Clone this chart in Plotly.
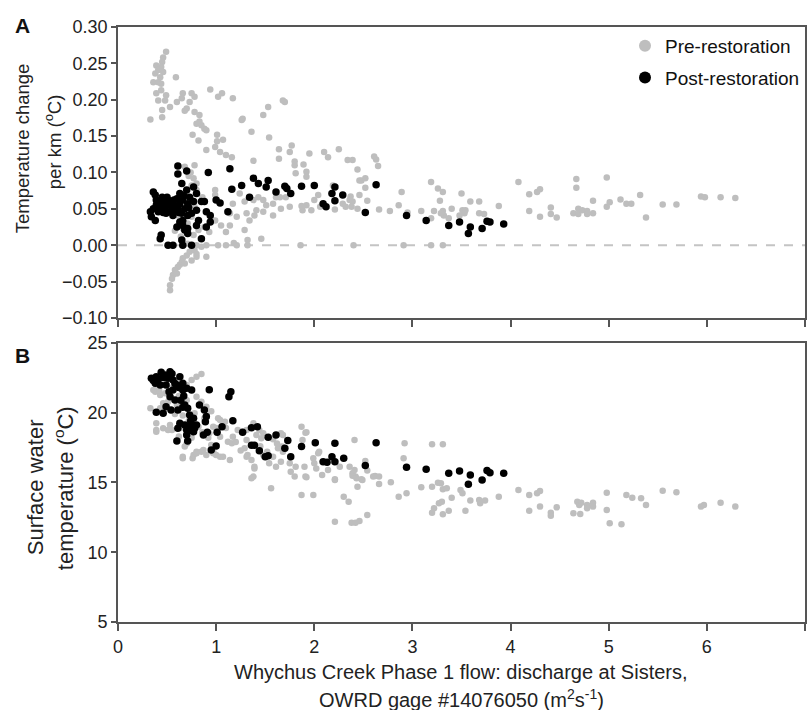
import plotly.graph_objects as go

# ---------------- data ----------------
# Panel A: temperature change per km (deg C) vs discharge (m3/s)
a_pre = [
    (0.49,0.266),(0.46,0.258),(0.45,0.252),(0.39,0.247),(0.44,0.245),(0.41,0.241),(0.38,0.236),(0.46,0.238),
    (0.43,0.231),(0.36,0.224),(0.41,0.224),(0.44,0.222),(0.59,0.231),(0.39,0.209),(0.44,0.213),(0.49,0.206),
    (0.41,0.199),(0.48,0.199),(0.60,0.197),(0.53,0.190),(0.45,0.186),(0.33,0.173),(0.45,0.176),(0.66,0.209),
    (0.65,0.202),(0.75,0.209),(0.78,0.204),(0.73,0.197),(0.70,0.188),(0.68,0.185),(0.78,0.183),(0.83,0.179),
    (0.94,0.214),(1.02,0.204),(1.06,0.209),(1.17,0.202),(0.80,0.167),(0.83,0.170),(0.88,0.160),(0.90,0.158),
    (0.85,0.165),(0.76,0.152),(0.82,0.144),(1.01,0.152),(1.07,0.145),(1.01,0.143),(0.99,0.135),(0.90,0.131),
    (1.04,0.128),(1.10,0.124),(1.16,0.121),(1.26,0.172),(1.27,0.174),(1.36,0.156),(1.48,0.179),(1.53,0.190),
    (1.54,0.148),(1.68,0.199),(1.70,0.197),(1.64,0.132),(1.64,0.119),(1.38,0.116),
    (0.68,0.108),(0.78,0.110),(0.77,0.092),(0.75,0.082),(0.80,0.076),(0.99,0.076),(0.99,0.069),(1.24,0.071),
    (1.29,0.060),(1.38,0.062),(1.43,0.066),(1.48,0.062),(1.51,0.055),(1.58,0.057),(1.61,0.066),(1.66,0.050),
    (1.58,0.041),(1.48,0.046),(1.39,0.041),(1.34,0.034),(1.29,0.021),(1.32,0.007),(1.46,0.009),(1.21,0.039),
    (1.14,0.027),(1.10,0.018),(1.05,0.027),(0.99,0.034),(0.93,0.018),(0.88,0.025),(0.82,0.021),(0.77,0.014),
    (0.70,0.018),(0.66,0.023),(0.71,0.030),(0.75,0.039),(0.78,0.053),(0.68,0.071),
    (0.80,0.0),(0.90,0.0),(1.02,0.0),(1.10,0.0),(1.21,0.0),(1.32,0.0),
    (0.77,-0.005),(0.80,-0.012),(0.73,-0.009),(0.70,-0.014),(0.66,-0.018),(0.65,-0.023),(0.63,-0.027),
    (0.61,-0.030),(0.58,-0.034),(0.56,-0.041),(0.55,-0.046),(0.53,-0.055),(0.53,-0.062),(0.90,-0.016),
    (0.80,-0.016),(0.78,-0.007),(0.75,-0.021),(0.68,-0.025),(0.60,-0.039),(0.71,0.002),(0.85,-0.002),
    (0.72,0.095),(0.74,0.100),(0.80,0.085),(0.86,0.066),(0.62,0.040),(0.58,0.020),(0.64,0.012),(0.72,0.045),
    (1.18,0.003),(1.17,0.057),(1.14,0.044),(1.31,0.044),(1.41,0.048),(1.71,0.066),
    (1.77,0.137),(1.75,0.128),(1.80,0.115),(1.80,0.110),(1.81,0.099),(1.89,0.111),(1.92,0.101),(1.92,0.094),
    (1.95,0.126),(2.10,0.128),(2.14,0.121),(2.25,0.132),(2.34,0.117),(2.39,0.117),(2.44,0.104),(2.46,0.089),
    (2.48,0.089),(2.52,0.079),(2.61,0.122),(2.63,0.118),(2.65,0.109),(2.54,0.061),(2.46,0.069),(2.37,0.067),
    (2.39,0.060),(2.38,0.053),(2.44,0.050),(2.29,0.057),(2.32,0.053),(2.21,0.049),(2.19,0.082),(2.06,0.053),
    (2.04,0.069),(2.00,0.062),(1.97,0.048),(1.92,0.055),(1.88,0.048),(1.87,0.054),(1.75,0.053),(1.65,0.066),
    (2.66,0.049),(2.77,0.047),(2.86,0.055),(2.89,0.073),(2.95,0.045),(3.09,0.047),(3.19,0.087),(3.26,0.078),
    (3.31,0.073),(3.28,0.061),(3.22,0.047),(3.19,0.037),(3.31,0.047),(3.32,0.041),(3.29,0.044),(3.40,0.050),
    (3.37,0.037),(3.50,0.071),(3.51,0.048),(3.53,0.044),(3.48,0.041),(3.59,0.060),(3.54,0.048),
    (1.86,0.0),(2.40,0.0),(2.91,0.0),(3.19,0.0),(3.31,0.0),(2.36,0.062),(2.52,0.092),
    (3.68,0.060),(3.68,0.044),(3.73,0.043),(3.88,0.054),(4.08,0.087),(4.19,0.070),(4.19,0.047),(4.27,0.073),
    (4.30,0.077),(4.30,0.039),(4.41,0.052),(4.41,0.043),(4.47,0.038),(4.64,0.044),(4.67,0.091),(4.67,0.079),
    (4.69,0.050),(4.69,0.043),(4.73,0.048),(4.78,0.047),(4.78,0.043),(4.84,0.044),(4.84,0.061),(4.98,0.093),
    (4.98,0.053),(5.01,0.059),(5.12,0.063),(5.18,0.057),(5.23,0.057),(5.32,0.069),(5.38,0.038),(5.55,0.056),
    (5.69,0.056),(5.94,0.067),(5.98,0.066),(6.14,0.066),(6.29,0.065),
]
a_post = [
    (0.61,0.109),(0.70,0.102),(0.92,0.100),(1.14,0.105),(1.16,0.077),(0.36,0.073),(0.38,0.069),
    (0.43,0.060),(0.46,0.057),(0.49,0.062),(0.53,0.055),(0.48,0.050),(0.56,0.058),(0.60,0.064),(0.63,0.071),
    (0.65,0.085),(0.70,0.076),(0.73,0.066),(0.77,0.080),(0.71,0.057),(0.68,0.050),(0.65,0.044),(0.66,0.034),
    (0.75,0.044),(0.80,0.048),(0.85,0.060),(0.88,0.060),(0.90,0.046),(0.94,0.041),(1.00,0.062),(1.04,0.058),
    (1.12,0.046),(0.33,0.046),(0.34,0.039),(0.38,0.034),(0.41,0.046),(0.56,0.041),(0.63,0.032),(0.71,0.023),
    (0.71,0.016),(0.80,0.027),(0.90,0.025),(0.85,0.009),(0.44,0.014),(0.43,0.009),(0.51,0.000),(0.56,0.000),
    (0.65,0.007),(0.66,0.000),(0.75,0.000),(0.66,0.062),(0.63,0.057),(0.61,0.050),(0.53,0.046),(0.44,0.053),
    (0.39,0.055),(0.49,0.044),(0.80,0.071),(0.77,0.060),(0.82,0.034),(0.94,0.032),(0.60,0.025),(0.68,0.021),
    (0.66,0.027),(0.71,0.041),(0.59,0.053),
    (0.40,0.058),(0.42,0.052),(0.45,0.062),(0.47,0.055),(0.50,0.058),(0.52,0.061),(0.55,0.052),(0.57,0.062),
    (0.58,0.048),(0.50,0.066),(0.36,0.050),(0.46,0.045),(0.62,0.045),(0.67,0.068),(0.72,0.052),(0.45,0.066),
    (0.39,0.062),(0.61,0.098),
    (1.26,0.082),(1.38,0.092),(1.43,0.085),(1.51,0.080),(1.53,0.089),(1.61,0.073),(1.34,0.066),(1.70,0.081),
    (1.72,0.078),(1.76,0.071),(1.87,0.081),(2.00,0.082),(2.09,0.057),(2.12,0.053),(2.18,0.071),(2.21,0.080),
    (2.21,0.061),(2.29,0.069),(2.52,0.045),(2.63,0.083),(2.94,0.041),(3.14,0.034),(3.37,0.027),(3.48,0.032),
    (3.59,0.025),(3.57,0.016),(3.71,0.023),(3.76,0.033),(3.79,0.032),(3.93,0.029),
]
# Panel B: surface water temperature (deg C) vs discharge (m3/s)
b_pre = [
    (0.33,20.32),(0.39,19.24),(0.39,18.76),(0.46,18.88),(0.51,18.76),(0.36,21.63),(0.39,21.87),(0.85,22.78),
    (0.80,22.58),(0.75,22.35),(0.70,21.99),(0.66,16.73),(0.76,16.73),(0.68,17.57),(0.80,17.21),(0.87,17.33),
    (0.97,17.09),(1.04,16.85),(1.14,16.61),(1.02,19.60),(1.04,19.48),(1.17,18.28),(1.22,18.76),(1.31,18.05),
    (1.38,19.24),(1.44,18.76),(1.48,18.52),(1.31,16.85),(1.36,15.30),(1.39,16.13),(1.56,14.58),(1.66,18.52),
    (1.67,17.57),(1.75,16.37),(1.76,15.77),(1.81,16.13),(1.87,19.00),(1.91,18.57),(1.87,14.10),(1.99,14.10),
    (1.91,15.42),(2.00,16.37),(2.08,15.54),(2.05,17.21),(2.21,12.19),(2.21,15.18),(2.30,13.98),(2.35,13.62),
    (2.38,12.12),(2.42,12.12),(2.46,12.24),(2.54,12.67),(2.39,15.66),(2.42,15.42),(2.41,18.05),(2.49,15.18),
    (2.44,14.70),(2.62,15.47),(2.66,15.42),(2.66,14.89),(2.78,15.01),(2.86,13.98),(2.92,17.81),(2.91,16.73),
    (2.94,14.22),
    (3.20,17.74),(3.31,17.74),(3.09,14.66),(3.20,14.70),(3.26,14.98),(3.29,14.94),(3.31,14.51),(3.35,14.58),
    (3.49,14.46),(3.51,14.22),(3.40,13.91),(3.30,13.62),(3.27,13.51),(3.22,13.15),(3.20,12.83),(3.31,12.72),
    (3.37,12.98),(3.54,12.98),(3.59,13.70),(3.68,13.75),(3.69,13.51),(3.74,13.70),(3.88,13.98),(4.08,14.46),
    (4.19,14.10),(4.19,12.98),(4.27,14.22),(4.30,14.39),(4.30,13.27),(4.41,12.83),(4.41,12.62),(4.47,13.22),
    (4.64,12.79),(4.68,13.62),(4.70,13.39),(4.72,13.55),(4.71,12.74),(4.78,13.39),(4.78,13.15),(4.84,13.55),
    (4.84,13.27),(4.98,14.27),(4.98,13.03),(5.01,12.07),(5.13,12.00),(5.18,14.10),(5.24,13.91),(5.33,13.87),
    (5.38,13.39),(5.55,14.41),(5.69,14.30),(5.94,13.27),(5.97,13.39),(6.14,13.55),(6.29,13.27),
    (0.38,21.51),(0.43,21.27),(0.48,21.39),(0.51,20.79),(0.46,20.67),(0.43,20.32),(0.60,20.56),(0.80,21.15),
    (0.85,20.79),(0.90,20.43),(0.78,19.96),(0.39,18.64),(0.53,19.12),(0.55,18.76),(1.09,19.36),(0.97,19.00),
    (0.93,18.53),(1.04,18.28),(1.12,17.92),(1.16,17.81),(0.66,16.85),(0.77,16.97),(0.80,17.09),(0.85,17.21),
    (0.90,16.97),(0.97,17.21),(1.00,16.97),(1.07,16.85),(0.95,17.69),(1.26,18.64),(1.31,18.76),(1.41,18.40),
    (1.46,18.17),(1.29,17.45),(1.32,16.97),(1.36,16.61),(1.39,16.01),(1.38,15.42),(1.48,16.97),(1.54,16.37),
    (1.58,16.85),(1.63,17.45),(1.61,16.13),(1.66,16.49),(1.68,18.40),
    (1.92,18.60),(1.88,18.05),(1.68,17.21),(1.80,15.42),(1.90,16.13),(1.92,15.37),(1.99,16.73),(2.04,17.09),
    (2.02,16.01),(2.14,15.90),(2.21,15.23),(2.26,16.13),(2.36,16.13),(2.39,15.49),(2.41,15.90),(2.43,15.30),
    (2.48,15.23),(2.52,16.54),(2.54,15.85),(2.60,15.42),
    (0.55,21.8),(0.62,21.2),(0.70,20.9),(0.66,19.8),(0.72,19.4),(0.58,19.9),(0.82,19.0),(0.86,18.6),
    (0.92,18.2),(0.75,18.2),(0.62,18.3),(0.70,17.8),(0.88,19.6),(0.95,20.1),(0.67,21.6),(0.58,22.3),
    (0.47,22.0),(0.42,21.6),(0.64,18.9),(1.00,18.9),(1.10,18.9),(1.20,17.9),(1.25,17.3),(1.45,17.6),
    (1.52,17.2),(1.58,18.1),(1.62,17.8),
]
b_post = [
    (0.44,22.90),(0.53,22.94),(0.34,22.47),(0.39,22.58),(0.46,22.52),(0.51,22.47),(0.56,22.35),(0.63,22.58),
    (0.38,22.11),(0.43,21.99),(0.49,21.99),(0.60,21.99),(0.66,22.11),(0.70,21.75),(0.75,21.63),(0.66,21.63),
    (0.56,21.63),(0.93,21.65),(1.15,21.51),(1.13,21.15),(0.53,21.15),(0.58,20.91),(0.68,20.56),(0.71,20.32),
    (0.83,20.56),(0.88,20.20),(0.49,20.43),(0.54,20.20),(0.61,20.20),(0.39,20.03),(0.46,19.96),(0.73,19.84),
    (0.77,19.60),(0.90,19.72),(0.89,19.36),(1.17,19.43),(0.63,19.24),(0.68,19.12),(0.71,19.00),(0.75,19.12),
    (0.78,18.89),(0.80,19.12),(0.61,18.89),(0.70,18.76),(0.77,18.64),(0.87,18.40),(0.91,18.60),(1.01,18.60),
    (1.06,19.00),(0.70,18.40),(0.60,17.97),(0.71,17.97),(0.95,17.33),(1.00,17.62),(1.27,18.60),(1.36,18.93),
    (1.42,19.00),(1.53,18.24),(1.61,18.40),(1.36,17.67),(1.39,17.67),(1.44,17.28),(1.50,16.85),(1.53,16.92),
    (1.70,17.45),(1.73,18.00),(1.76,16.85),(1.87,17.57),(2.01,17.85),(2.09,16.49),(2.13,16.45),(2.18,16.85),
    (2.21,17.81),(2.21,16.49),(2.30,16.73),(2.52,16.21),(2.63,17.85),(2.94,16.09),(3.14,15.95),(3.37,15.66),
    (3.48,15.82),(3.57,14.87),(3.59,15.54),(3.71,15.18),(3.76,15.85),(3.79,15.70),(3.93,15.66),
    (0.36,22.3),(0.41,22.4),(0.48,22.7),(0.55,22.8),(0.58,22.1),(0.62,21.8),(0.52,21.5),(0.64,20.9),
    (0.66,20.4),(0.74,19.4),(0.72,18.7),(0.76,18.9),(0.67,21.2),
]

x_ticks = [0, 1, 2, 3, 4, 5, 6, 7]
a_ticks = [-0.10, -0.05, 0.00, 0.05, 0.10, 0.15, 0.20, 0.25, 0.30]
b_ticks = [5, 10, 15, 20, 25]
series_names = ["Pre-restoration", "Post-restoration"]

# ---------------- styling ----------------
FONT = "Liberation Sans, Arial, Helvetica, sans-serif"
GRAY = "#bebebe"
BLACK = "#000000"
AXC = "#555555"


def unzip(pairs):
    return [p[0] for p in pairs], [p[1] for p in pairs]


fig = go.Figure()

ax, ay = unzip(a_pre)
fig.add_trace(go.Scatter(x=ax, y=ay, mode="markers", name=series_names[0], legendgroup="pre",
                         marker=dict(color=GRAY, size=6.5), xaxis="x", yaxis="y"))
ax, ay = unzip(a_post)
fig.add_trace(go.Scatter(x=ax, y=ay, mode="markers", name=series_names[1], legendgroup="post",
                         marker=dict(color=BLACK, size=7.5), xaxis="x", yaxis="y"))
bx, by = unzip(b_pre)
fig.add_trace(go.Scatter(x=bx, y=by, mode="markers", name=series_names[0], showlegend=False,
                         marker=dict(color=GRAY, size=6.5), xaxis="x2", yaxis="y2"))
bx, by = unzip(b_post)
fig.add_trace(go.Scatter(x=bx, y=by, mode="markers", name=series_names[1], showlegend=False,
                         marker=dict(color=BLACK, size=7.5), xaxis="x2", yaxis="y2"))

common = dict(showline=True, linecolor=AXC, linewidth=1.8, mirror=True, ticks="outside",
              tickcolor=AXC, tickwidth=1.5, showgrid=False, zeroline=False,
              tickfont=dict(family=FONT, size=18, color="#222222"))

fig.update_layout(
    width=810, height=710,
    margin=dict(l=118, r=3, t=27, b=88),
    paper_bgcolor="white", plot_bgcolor="white",
    font=dict(family=FONT, color="#222222"),
    xaxis=dict(anchor="y", domain=[0, 1], range=[0, 7], tickvals=x_ticks, showticklabels=False,
               ticklen=7, **common),
    yaxis=dict(anchor="x", domain=[0.511, 1], range=[-0.10, 0.30], tickvals=a_ticks,
               tickformat=".2f", ticklen=5, **common),
    xaxis2=dict(anchor="y2", domain=[0, 1], range=[0, 7], tickvals=x_ticks, ticklen=7, **common),
    yaxis2=dict(anchor="x2", domain=[0, 0.469], range=[5, 25], tickvals=b_ticks, ticklen=5, **common),
    showlegend=True,
    legend=dict(x=1, xanchor="right", y=1, yanchor="top", bgcolor="rgba(0,0,0,0)",
                font=dict(family=FONT, size=19, color="#111111"), itemsizing="constant",
                tracegroupgap=4),
)

# zero reference line in panel A
fig.add_shape(type="line", xref="x", yref="y", x0=0, x1=7, y0=0, y1=0, layer="below",
              line=dict(color="#c4c4c4", width=2, dash="dash"))

font_a = dict(family=FONT, size=18.5, color="#222222")
font_b = dict(family=FONT, size=22, color="#222222")
font_x = dict(family=FONT, size=20, color="#222222")
PW = 689.0
PH = 595.0


def px2x(px):
    return (px - 118) / PW


def py2y(py):
    return 1 - (py - 27) / PH


def rot(text, px, py, font):
    return dict(text=text, x=px2x(px), y=py2y(py), xref="paper", yref="paper", textangle=-90,
                showarrow=False, xanchor="center", yanchor="middle", font=font)


def flat(text, px, py, font):
    return dict(text=text, x=px2x(px), y=py2y(py), xref="paper", yref="paper",
                showarrow=False, xanchor="center", yanchor="middle", font=font)


label_font = dict(family=FONT, size=21, color="#111111")
annotations = [
    flat("<b>A</b>", 22, 25, label_font),
    flat("<b>B</b>", 22, 355, label_font),
    rot("Temperature change", 23, 148, font_a),
    rot("per km (<sup>o</sup>C)", 53, 142, font_a),
    rot("Surface water", 35, 487, font_b),
    rot("temperature (<sup>o</sup>C)", 64, 488, font_b),
    flat("Whychus Creek Phase 1 flow: discharge at Sisters,", 462, 672, font_x),
    flat("OWRD gage #14076050 (m<sup>2</sup>s<sup>-1</sup>)", 462, 698, font_x),
]
fig.update_layout(annotations=annotations)

fig.write_html("out.html")
